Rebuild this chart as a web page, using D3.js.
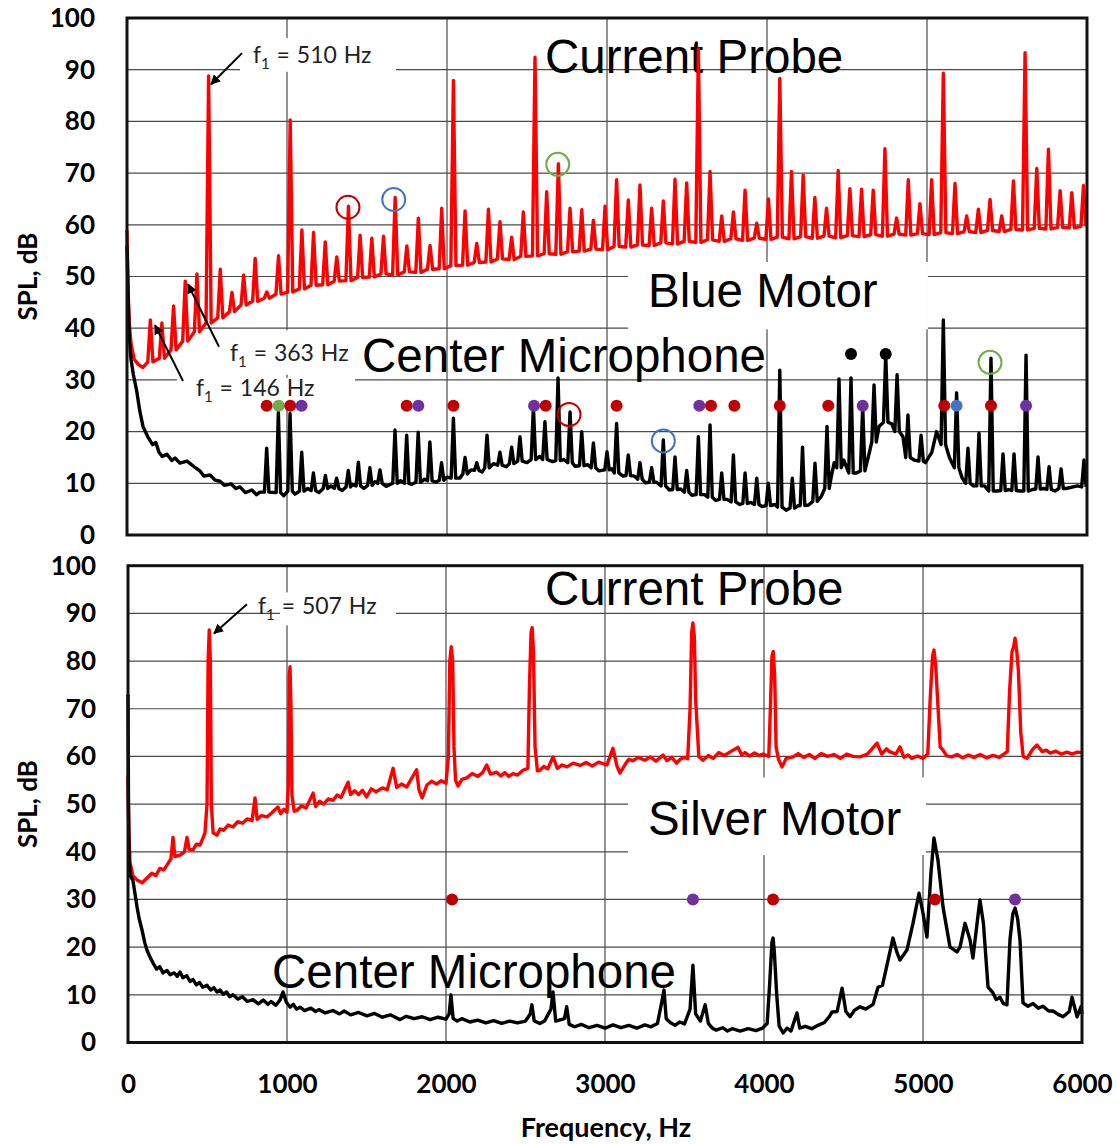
<!DOCTYPE html>
<html>
<head>
  <style>
    body { margin: 0; background: #fff; }
    text { font-family: Lato, "Open Sans", sans-serif; }
    .big { font-family: "Liberation Sans", Arial, sans-serif; font-size: 47.5px; }
  </style>
  <script src="https://cdn.jsdelivr.net/npm/d3@7/dist/d3.min.js"></script>
</head>
<body>
<script>
  // ---- tick values
  const xTicks = [0, 1000, 2000, 3000, 4000, 5000, 6000];
  const yTicks = [0, 10, 20, 30, 40, 50, 60, 70, 80, 90, 100];

  // ---- Blue motor, current probe: floor at the start, then spikes [Hz, top dB, foot dB]
  const blueProbeFloor = [[0, 59], [6, 48], [14, 41], [25, 37], [45, 34], [70, 33], [100, 32.4], [125, 33]];
  const blueProbePeaks = [
    [146, 41.6, 33.5], [218, 41, 34.2], [291, 44.3, 35.8], [364, 49.1, 37.5], [437, 50.5, 39.3], [510, 88.8, 41],
    [583, 51.4, 42], [656, 46.9, 43.2], [729, 50.3, 44.5], [801, 53.5, 45.2], [874, 47, 45.8], [947, 54, 46.6],
    [1020, 80.3, 47], [1093, 59, 47.6], [1166, 58.5, 48.3], [1239, 56.7, 48.4], [1311, 53.8, 49.1], [1384, 63.6, 49.2],
    [1457, 58, 49.8], [1530, 57.4, 49.9], [1603, 57.8, 50.5], [1676, 65.3, 50.3], [1749, 55.9, 50.9], [1821, 61.3, 50.8],
    [1894, 56, 51.4], [1967, 63.2, 51.5], [2040, 87.9, 52.1], [2113, 62.7, 52.2], [2186, 56.4, 52.7], [2259, 63, 52.8],
    [2331, 60.6, 53.4], [2404, 57.6, 53.3], [2477, 62.5, 53.9], [2550, 92.4, 54], [2623, 66.4, 54.4], [2696, 71.8, 54.3],
    [2769, 63.2, 54.8], [2842, 62.9, 54.9], [2915, 60.9, 55.3], [2988, 63.6, 55.2], [3060, 68.7, 55.8], [3133, 64.8, 55.7],
    [3206, 67.7, 56.1], [3279, 63.2, 56], [3352, 64.6, 56.5], [3425, 68.8, 56.3], [3498, 68.1, 56.8], [3571, 94, 56.6],
    [3644, 70.3, 57.1], [3717, 61.7, 56.8], [3790, 62.5, 57.3], [3863, 66.7, 57], [3936, 60.3, 57.4], [4009, 65, 57.2],
    [4080, 88.3, 57.6], [4153, 70.3, 57.3], [4226, 69.6, 57.7], [4299, 65.3, 57.4], [4372, 63.2, 57.8], [4445, 70.5, 57.5],
    [4518, 67, 57.9], [4591, 66.9, 57.7], [4664, 66.7, 58.1], [4737, 74.7, 57.8], [4810, 61.3, 58.2], [4883, 68.7, 58],
    [4956, 64.1, 58.3], [5029, 68.7, 58.1], [5102, 89.3, 58.5], [5175, 68, 58.3], [5248, 61.7, 58.7], [5321, 63, 58.5],
    [5394, 64.9, 58.9], [5467, 61.7, 58.7], [5540, 68.5, 59.1], [5613, 93.3, 59], [5686, 70.9, 59.3], [5759, 74.6, 59.2],
    [5832, 66.6, 59.5], [5905, 66.2, 59.4], [5978, 67.6, 59.7]
  ];

  // ---- Blue motor, center microphone
  const blueMicFloor = [
    [0, 56], [8, 45], [15, 38], [25, 34], [40, 31], [60, 28], [80, 24], [100, 21], [130, 19], [160, 17.5],
    [180, 17.9], [200, 16], [220, 15.2], [250, 15.6], [280, 14.4], [300, 14.9], [330, 13.9], [375, 14.3],
    [420, 13.2], [456, 12.4], [480, 11.4], [520, 11.6], [550, 10.6], [581, 10.4], [610, 9.6], [650, 9.9],
    [680, 9], [706, 9.3], [740, 8.2], [780, 8.7], [810, 7.8], [831, 8.3], [980, 7.6], [1000, 8.8], [1050, 7.9],
    [1130, 9], [1200, 8.2], [1275, 9.5], [1345, 8.6], [1410, 9.8], [1480, 9], [1550, 10.3], [1620, 9.4],
    [1710, 10.5], [1780, 9.8], [1860, 10.8], [1930, 10.2], [2000, 11.2], [2080, 11], [2150, 12.6], [2220, 12.2],
    [2290, 13.8], [2370, 13.2], [2440, 14.6], [2500, 14], [2580, 15.2], [2660, 14.2], [2730, 14.6], [2800, 13.3],
    [2880, 13.6], [2950, 12.4], [3030, 12.8], [3100, 11.4], [3170, 11.4], [3240, 10.1], [3310, 10.2],
    [3390, 8.7], [3460, 8.9], [3530, 7.7], [3610, 7.8], [3680, 6.7], [3750, 6.9], [3830, 5.9], [3900, 6.3],
    [3970, 5.5], [4050, 5.9], [4120, 4.8], [4190, 5.6], [4260, 5.8], [4340, 7.5], [4400, 11], [4420, 14],
    [4480, 14.5], [4560, 12], [4620, 13], [4640, 16], [4700, 21], [4780, 21.5], [4850, 19], [4920, 14.5],
    [4990, 14], [5030, 16], [5060, 20], [5080, 19], [5140, 15], [5220, 11], [5290, 9.5], [5360, 9.5],
    [5440, 8.5], [5510, 8.8], [5580, 8.5], [5660, 8.8], [5730, 9], [5800, 8.5], [5870, 9], [5940, 9.5], [6000, 9.3]
  ];
  const blueMicPeaks = [
    [873, 16.8, 8.3], [946, 23.8, 8.2], [1019, 23.5, 8.5], [1092, 16, 8.5], [1165, 12, 8.6], [1240, 11.5, 9],
    [1310, 11, 9], [1383, 12.5, 9.3], [1446, 14.1, 9.5], [1518, 13, 9.6], [1581, 12.6, 10], [1675, 20.3, 10],
    [1748, 19.3, 10], [1820, 19.9, 10.2], [1893, 18, 10.5], [1966, 14, 10.6], [2040, 22.6, 11], [2113, 15, 11.8],
    [2186, 14, 12.5], [2250, 19.3, 13], [2331, 16, 13.5], [2404, 17, 13.8], [2456, 19, 14.3], [2540, 24.8, 14.6],
    [2612, 21.9, 14.6], [2694, 30.4, 14.4], [2769, 23.8, 14], [2842, 20, 13.4], [2915, 17.8, 13], [3000, 16.1, 12.6],
    [3060, 21.6, 12], [3133, 15.5, 11.5], [3206, 14, 10.8], [3279, 13, 10.2], [3352, 18.4, 9.5], [3425, 15.1, 8.8],
    [3498, 12.5, 8.3], [3571, 19, 7.8], [3644, 21.3, 7.3], [3717, 12, 6.9], [3790, 15.5, 6.4], [3863, 12, 6.1],
    [3936, 11, 5.9], [4008, 10, 5.7], [4080, 31.9, 5.4], [4158, 11, 5.2], [4222, 17, 5.7], [4300, 13.9, 6.5],
    [4375, 21, 9], [4450, 30.2, 13], [4525, 30.4, 12], [4598, 24.8, 12.4], [4669, 29, 18], [4742, 34.8, 21.8],
    [4813, 31, 20], [4881, 23.2, 15], [4963, 19.3, 14.3], [5102, 41.6, 17.5], [5185, 27.5, 13], [5256, 16.8, 10],
    [5325, 19.7, 9.5], [5400, 34.2, 8.5], [5475, 15.7, 8.6], [5544, 15.7, 8.6], [5619, 34.8, 8.5], [5694, 15.1, 8.9],
    [5763, 13.2, 8.8], [5838, 12.8, 9], [5981, 14.5, 9.3]
  ];

  // ---- Silver motor, current probe
  const silverProbe = [
    [0, 56], [5, 45], [12, 38], [30, 35], [60, 34], [90, 33.5], [120, 34.5], [150, 35.5], [175, 35], [200, 36.5],
    [225, 36.2], [245, 37.2], [270, 38.5], [283, 43], [295, 39], [327, 39.3], [355, 40], [371, 43], [385, 40.5],
    [409, 40.4], [430, 41.6], [453, 41.4], [484, 43.9], [497, 50], [504, 80], [511, 86.5], [518, 80], [524, 50],
    [535, 44], [559, 43.5], [580, 44.8], [600, 44.5], [630, 45.6], [660, 45.2], [690, 46.3], [720, 46],
    [750, 46.9], [780, 46.5], [799, 51.3], [812, 46.8], [840, 47.6], [874, 47.3], [905, 48.2], [943, 49.4],
    [960, 48], [980, 48.9], [1000, 48.3], [1008, 54], [1014, 77], [1019, 78.8], [1025, 70], [1031, 52],
    [1045, 48.5], [1063, 48.7], [1090, 49.6], [1120, 49.2], [1164, 52.3], [1180, 49.5], [1205, 50.6],
    [1230, 50], [1260, 51.1], [1290, 50.8], [1315, 51.9], [1340, 51.4], [1384, 54.6], [1400, 52], [1425, 52.8],
    [1450, 52], [1475, 52.9], [1500, 51.5], [1530, 53.2], [1560, 52.6], [1600, 53.4], [1630, 53], [1667, 57.5],
    [1690, 53.5], [1720, 54.2], [1753, 53.6], [1815, 57.2], [1830, 53], [1850, 51.3], [1880, 54], [1910, 54.8],
    [1940, 54.2], [1970, 54.9], [2000, 54.4], [2015, 60], [2024, 80], [2033, 83], [2042, 80], [2050, 62],
    [2060, 55], [2076, 53.8], [2100, 55.2], [2130, 55.5], [2165, 56.4], [2200, 55.8], [2230, 56.6], [2256, 58.2],
    [2280, 56.3], [2318, 56.7], [2345, 55.9], [2370, 56.6], [2395, 55.8], [2421, 56.4], [2450, 56.1],
    [2484, 57.1], [2515, 57.5], [2525, 75], [2535, 86], [2542, 87], [2550, 82], [2560, 62], [2575, 57],
    [2591, 57.1], [2615, 57.9], [2640, 57.4], [2673, 59.9], [2700, 57.5], [2730, 58.2], [2761, 57.8],
    [2800, 58.6], [2843, 58.1], [2880, 58.7], [2920, 58], [2960, 58.8], [3012, 58.2], [3050, 61.7], [3075, 58],
    [3094, 56.5], [3130, 58.5], [3150, 59.4], [3176, 59.1], [3210, 59.8], [3250, 59.2], [3285, 59.9],
    [3320, 59], [3365, 60.3], [3390, 59.1], [3420, 59.8], [3450, 58.6], [3472, 59.4], [3500, 59.8], [3520, 59.5],
    [3535, 70], [3545, 86], [3553, 88], [3562, 85], [3570, 72], [3590, 60], [3616, 59.2], [3650, 60.2],
    [3680, 59.6], [3715, 60.8], [3750, 60.2], [3790, 61], [3836, 61.9], [3860, 60.3], [3880, 60.8], [3910, 60.1],
    [3940, 60.7], [3970, 60.2], [3994, 60.5], [4030, 60], [4040, 70], [4050, 81], [4058, 82], [4067, 77],
    [4076, 62], [4090, 59.5], [4113, 57.8], [4140, 59.6], [4183, 59.9], [4215, 60.6], [4250, 59.8], [4285, 60.4],
    [4320, 59.6], [4360, 60.6], [4400, 60], [4440, 60.4], [4480, 59.6], [4520, 60.5], [4560, 60],
    [4604, 59.9], [4650, 60.5], [4711, 62.8], [4740, 60.5], [4770, 61.6], [4790, 61], [4830, 60.5], [4855, 62],
    [4880, 59.8], [4905, 60.3], [4930, 59.6], [4965, 60.1], [5000, 59.6], [5030, 60.5], [5045, 72], [5060, 81],
    [5069, 82.3], [5080, 79], [5095, 70], [5108, 62], [5126, 61.3], [5150, 60.1], [5180, 59.9], [5215, 60.4],
    [5250, 59.7], [5285, 60.3], [5320, 59.8], [5360, 60.4], [5400, 59.7], [5440, 60.2], [5480, 59.8], [5530, 61],
    [5545, 74], [5560, 82], [5570, 83], [5579, 84.8], [5590, 82], [5600, 78], [5615, 65], [5630, 60],
    [5654, 59.6], [5690, 61.5], [5717, 62.4], [5750, 61], [5775, 61.3], [5800, 60.7], [5835, 61.1], [5870, 60.5],
    [5905, 60.9], [5940, 60.5], [5970, 60.9], [6000, 60.8]
  ];

  // ---- Silver motor, center microphone
  const silverMic = [
    [0, 73], [3, 50], [7, 38], [15, 35], [31, 34], [45, 31], [57, 28.4], [70, 26], [88, 23.6], [105, 21],
    [119, 19.4], [140, 17.8], [157, 16.7], [180, 15.4], [200, 15.9], [220, 14.6], [245, 15.1], [265, 14.2],
    [290, 14.6], [310, 13.9], [327, 14.8], [345, 13.6], [370, 14], [390, 12.8], [409, 13.2], [430, 12.1],
    [450, 12.6], [470, 11.6], [497, 12], [520, 11], [540, 11.5], [560, 10.6], [579, 11], [600, 10.1],
    [620, 10.6], [640, 9.6], [660, 10], [690, 9.1], [720, 9.6], [750, 8.6], [786, 9], [820, 8.1], [850, 8.9],
    [880, 8], [900, 8.6], [930, 7.8], [956, 8.9], [975, 10.6], [995, 8.5], [1020, 7.4], [1040, 8], [1060, 7],
    [1082, 7.4], [1110, 6.7], [1150, 7.2], [1180, 6.5], [1200, 6.9], [1240, 6.2], [1289, 6.7], [1330, 6],
    [1360, 6.6], [1400, 5.8], [1450, 6.3], [1503, 5.6], [1550, 6.1], [1600, 5.3], [1650, 5.8], [1711, 4.8],
    [1750, 5.5], [1800, 5], [1850, 5.4], [1900, 4.8], [1950, 5.3], [2000, 4.9], [2020, 6], [2031, 10], [2045, 5],
    [2070, 4.5], [2100, 5], [2150, 4.3], [2200, 4.7], [2250, 4.1], [2300, 4.6], [2350, 4], [2400, 4.5],
    [2450, 4.1], [2500, 4.5], [2530, 6], [2540, 7.9], [2555, 4.5], [2590, 4], [2620, 4.5], [2660, 7], [2673, 10.6],
    [2690, 4.5], [2745, 5], [2759, 7.5], [2775, 3.8], [2810, 3.3], [2850, 3.8], [2900, 3.1], [2950, 3.6],
    [3000, 3], [3050, 3.7], [3100, 3.1], [3150, 3.6], [3200, 3], [3250, 3.7], [3290, 3.3], [3330, 4], [3360, 9],
    [3371, 11], [3385, 5], [3410, 4.2], [3440, 3.6], [3470, 4.3], [3500, 3.9], [3535, 7], [3553, 16.2], [3570, 6],
    [3600, 4.5], [3630, 7.9], [3650, 4], [3675, 3], [3700, 2.6], [3740, 3.1], [3770, 2.4], [3800, 2.9],
    [3850, 2.4], [3900, 2.9], [3950, 2.5], [3990, 3], [4020, 4], [4035, 12], [4050, 21], [4057, 21.9],
    [4065, 19], [4080, 10], [4095, 3.5], [4120, 2], [4145, 3], [4170, 2.4], [4207, 6.2], [4225, 3], [4260, 3.4],
    [4300, 2.9], [4340, 3.6], [4380, 4.2], [4410, 5.4], [4428, 6.4], [4460, 6.5], [4491, 11.4], [4515, 6.5],
    [4541, 5.4], [4570, 6.8], [4604, 7.5], [4640, 7], [4686, 8], [4717, 11.6], [4745, 12], [4773, 16.2],
    [4811, 21.9], [4835, 19], [4855, 17.3], [4899, 19.4], [4937, 25], [4975, 31.3], [5000, 27.1], [5025, 22.1],
    [5050, 35.5], [5069, 42.9], [5094, 38.3], [5126, 28.4], [5170, 20], [5214, 19], [5233, 20], [5264, 25],
    [5296, 21.5], [5314, 17.7], [5340, 25], [5358, 29.9], [5380, 25], [5409, 11.6], [5440, 10.4], [5460, 9],
    [5484, 9.5], [5505, 8.2], [5528, 7.9], [5547, 21.5], [5565, 27], [5579, 28.2], [5595, 26], [5610, 21.5],
    [5629, 8.3], [5660, 7.6], [5692, 8.2], [5725, 7.2], [5755, 7.6], [5790, 6.6], [5818, 6.6], [5850, 5.9],
    [5881, 5.4], [5920, 6.5], [5937, 9.5], [5969, 5.4], [5994, 7.5], [6000, 6]
  ];

  // ---- harmonic markers: [Hz, dB, kind]
  const blueDots = [
    [873, 25, "r"], [948, 25, "g"], [1020, 25, "r"], [1091, 25, "p"], [1748, 25, "r"], [1821, 25, "p"],
    [2040, 25, "r"], [2544, 25, "p"], [2617, 25, "r"], [3060, 25, "r"], [3577, 25, "p"], [3650, 25, "r"],
    [3796, 25, "r"], [4080, 25, "r"], [4383, 25, "r"], [4598, 25, "p"], [5108, 25, "r"], [5185, 25, "b"],
    [5400, 25, "r"], [5619, 25, "p"], [4525, 35, "k"], [4742, 35, "k"]
  ];
  const blueRings = [
    [1381, 63.4, "r"], [1667, 64.9, "b"], [2692, 71.7, "g"], [2763, 23.3, "r"], [3352, 18.2, "b"], [5394, 33.4, "g"]
  ];
  const silverDots = [[2038, 30, "r"], [3553, 30, "p"], [4057, 30, "r"], [5075, 30, "r"], [5579, 30, "p"]];

  const kindColor = { r: "#c00000", g: "#70ad47", p: "#7030a0", b: "#4472c4", k: "#000" };

  // ---- labels, anchored in data units
  const blueLabels = [
    { text: "Current Probe", f: 2612, db: 89.4 },
    { text: "Blue Motor", f: 3256, db: 44.1, box: [3131, 5006, 52.8, 39.8] },
    { text: "Center Microphone", f: 1469, db: 31.5 }
  ];
  const blueNotes = [
    { sub: "510", f: 787, db: 91.3, from: [719, 93.2], to: [525, 87.2], box: [706, 1681, 96.1, 89.6] },
    { sub: "363", f: 644, db: 33.7, from: [575, 36.4], to: [381, 48.5], box: [550, 1456, 39.6, 31] },
    { sub: "146", f: 431, db: 26.9, from: [350, 29.8], to: [175, 40.6], box: [312, 1425, 30.4, 25.8] }
  ];
  const silverLabels = [
    { text: "Current Probe", f: 2623, db: 91.7 },
    { text: "Silver Motor", f: 3270, db: 43.5, box: [3145, 5019, 55.6, 39.3] },
    { text: "Center Microphone", f: 906, db: 11.4 }
  ];
  const silverNotes = [
    { sub: "507", f: 818, db: 89.8, from: [748, 91.9], to: [541, 85.8], box: [956, 1686, 94.4, 87.5] }
  ];

  function spiky(floor, peaks, w) {
    const pts = floor.filter(p => !peaks.some(q => Math.abs(q[0] - p[0]) < w * 1.6));
    peaks.forEach(q => { pts.push([q[0] - w, q[2]], [q[0], q[1]], [q[0] + w, q[2]]); });
    return pts.sort((a, b) => a[0] - b[0]);
  }

  const svg = d3.select("body").append("svg").attr("width", 1118).attr("height", 1144);

  svg.append("defs").append("marker")
      .attr("id", "head").attr("viewBox", "0 0 10 10")
      .attr("refX", 9).attr("refY", 5)
      .attr("markerWidth", 5).attr("markerHeight", 5)
      .attr("orient", "auto")
    .append("path").attr("d", "M0,0 L10,5 L0,10 z").attr("fill", "#000");

  const panels = [
    {
      x: d3.scaleLinear().domain([0, 6000]).range([127, 1087]),
      y: d3.scaleLinear().domain([0, 100]).range([535, 18]),
      probe: spiky(blueProbeFloor, blueProbePeaks, 16),
      mic: spiky(blueMicFloor, blueMicPeaks, 14),
      dots: blueDots, rings: blueRings, labels: blueLabels, notes: blueNotes, xLabels: false
    },
    {
      x: d3.scaleLinear().domain([0, 6000]).range([128, 1082]),
      y: d3.scaleLinear().domain([0, 100]).range([1042.5, 565.7]),
      probe: silverProbe, mic: silverMic,
      dots: silverDots, rings: [], labels: silverLabels, notes: silverNotes, xLabels: true
    }
  ];

  panels.forEach(function(p) {
    const g = svg.append("g");
    const [xl, xr] = p.x.range();
    const [yb, yt] = p.y.range();

    // gridlines
    g.selectAll(".hgrid").data(yTicks.slice(1, -1)).enter().append("line")
        .attr("x1", xl).attr("x2", xr)
        .attr("y1", d => p.y(d)).attr("y2", d => p.y(d))
        .attr("stroke", "#4a4a4a").attr("stroke-width", 1.2);
    g.selectAll(".vgrid").data(xTicks.slice(1, -1)).enter().append("line")
        .attr("x1", d => p.x(d)).attr("x2", d => p.x(d))
        .attr("y1", yt).attr("y2", yb)
        .attr("stroke", "#4a4a4a").attr("stroke-width", 1.2);

    // white boxes behind labels
    const boxes = p.labels.filter(d => d.box).concat(p.notes);
    g.selectAll(".box").data(boxes).enter().append("rect")
        .attr("x", d => p.x(d.box[0])).attr("width", d => p.x(d.box[1]) - p.x(d.box[0]))
        .attr("y", d => p.y(d.box[2])).attr("height", d => p.y(d.box[3]) - p.y(d.box[2]))
        .attr("fill", "#fff");

    // big labels
    g.selectAll(".big").data(p.labels).enter().append("text")
        .attr("class", "big")
        .attr("x", d => p.x(d.f)).attr("y", d => p.y(d.db))
        .text(d => d.text);

    // spectra
    const line = d3.line().x(d => p.x(d[0])).y(d => p.y(d[1]));
    g.append("path").attr("d", line(p.probe))
        .attr("fill", "none").attr("stroke", "#ff0000").attr("stroke-width", 3.4)
        .attr("stroke-linejoin", "round");
    g.append("path").attr("d", line(p.mic))
        .attr("fill", "none").attr("stroke", "#000").attr("stroke-width", 3.4)
        .attr("stroke-linejoin", "round");

    // markers
    g.selectAll(".dot").data(p.dots).enter().append("circle")
        .attr("cx", d => p.x(d[0])).attr("cy", d => p.y(d[1])).attr("r", 6)
        .attr("fill", d => kindColor[d[2]]);
    g.selectAll(".ring").data(p.rings).enter().append("circle")
        .attr("cx", d => p.x(d[0])).attr("cy", d => p.y(d[1])).attr("r", 11.5)
        .attr("fill", "none").attr("stroke", d => kindColor[d[2]]).attr("stroke-width", 2);

    // f1 annotations
    p.notes.forEach(function(n) {
      g.append("line")
          .attr("x1", p.x(n.from[0])).attr("y1", p.y(n.from[1]))
          .attr("x2", p.x(n.to[0])).attr("y2", p.y(n.to[1]))
          .attr("stroke", "#000").attr("stroke-width", 2)
          .attr("marker-end", "url(#head)");
      const t = g.append("text")
          .attr("x", p.x(n.f)).attr("y", p.y(n.db))
          .style("font-size", "23px").style("word-spacing", "1px")
          .attr("fill", "#222");
      t.append("tspan").text("f");
      t.append("tspan").attr("dy", 6).style("font-size", "15px").text("1");
      t.append("tspan").attr("dy", -6).text(" = " + n.sub + " Hz");
    });

    // frame
    g.append("rect")
        .attr("x", xl).attr("y", yt).attr("width", xr - xl).attr("height", yb - yt)
        .attr("fill", "none").attr("stroke", "#111").attr("stroke-width", 3);

    // axes
    const ya = g.append("g").attr("transform", "translate(" + xl + ",0)")
        .call(d3.axisLeft(p.y).tickValues(yTicks).tickSize(0).tickPadding(32));
    ya.select(".domain").remove();
    ya.selectAll("text").style("font-size", "26px").style("font-weight", "bold")
        .attr("font-family", "Lato").attr("fill", "#000");

    if (p.xLabels) {
      const xa = g.append("g").attr("transform", "translate(0," + yb + ")")
          .call(d3.axisBottom(p.x).tickValues(xTicks).tickFormat(d3.format("d")).tickSize(0).tickPadding(32));
      xa.select(".domain").remove();
      xa.selectAll("text").style("font-size", "26px").style("font-weight", "bold")
          .attr("font-family", "Lato").attr("fill", "#000");
    }

    // y title
    g.append("text")
        .attr("transform", "translate(37," + ((yt + yb) / 2) + ") rotate(-90)")
        .style("text-anchor", "middle").style("font-size", "26px").style("font-weight", "bold")
        .text("SPL, dB");
  });

  svg.append("text")
      .attr("x", 606).attr("y", 1137)
      .style("text-anchor", "middle").style("font-size", "27px").style("font-weight", "bold")
      .text("Frequency, Hz");
</script>
</body>
</html>
